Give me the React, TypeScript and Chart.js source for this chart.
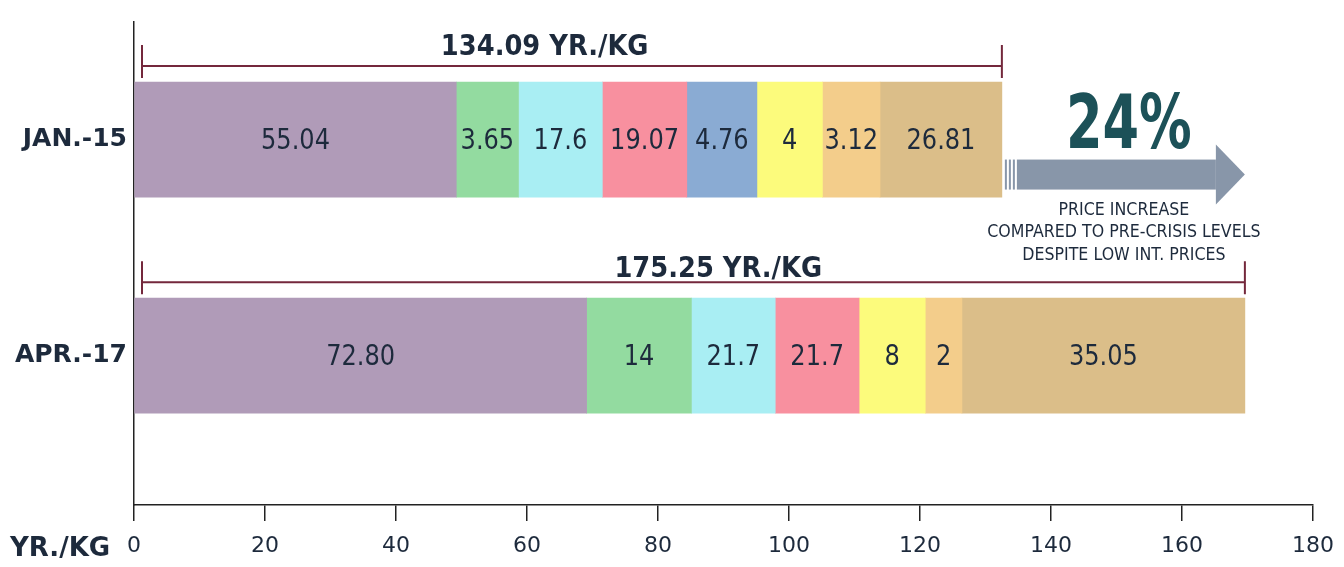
import React, { useEffect, useRef } from 'react';
import { Chart, registerables } from 'chart.js';

Chart.register(...registerables);

// ---------- data ----------
const rowLabels = ['JAN.-15', 'APR.-17'];
const rowPositions = [0, 1];
// segment widths as drawn in the picture (axis units), colour order: purple, green, cyan, pink, blue, yellow, orange, tan
const jan15Segments = [49.2, 9.5, 12.8, 12.9, 10.7, 10.0, 8.8, 18.6];
const apr17Segments = [69.1, 16.0, 12.8, 12.8, null, 10.1, 5.6, 43.2];
// printed values
const jan15SegmentLabels = ['55.04', '3.65', '17.6', '19.07', '4.76', '4', '3.12', '26.81'];
const apr17SegmentLabels = ['72.80', '14', '21.7', '21.7', '', '8', '2', '35.05'];
const totalLabels = ['134.09 YR./KG', '175.25 YR./KG'];
const xTickValues = [0, 20, 40, 60, 80, 100, 120, 140, 160, 180];
const xAxisUnit = 'YR./KG';
const increaseText = '24%';
const increaseNote = ['PRICE INCREASE', 'COMPARED TO PRE-CRISIS LEVELS', 'DESPITE LOW INT. PRICES'];

// ---------- styles ----------
const segmentColors = ['#b09bb8', '#93dba0', '#a9eef3', '#f8909f', '#8aabd3', '#fcfb7c', '#f3cd8b', '#dbbe89'];
const TEXT = '#1d2a3c';
const BRACKET = '#74283c';
const ARROW = '#8896a9';
const TEAL = '#1c5158';
const BAR_THICKNESS = 115;
const totalLabelAnchors = [62.7, 89.2]; // axis value at which each total label is centred
const totalLabelLift = [11, 5];

function drawText(ctx: CanvasRenderingContext2D, text: string, x: number, y: number, font: string, sx: number, color: string, baseline: CanvasTextBaseline, align: CanvasTextAlign = 'center') {
  ctx.save();
  ctx.translate(x, y);
  ctx.scale(sx, 1);
  ctx.font = font;
  ctx.textAlign = align;
  ctx.textBaseline = baseline;
  ctx.fillStyle = color;
  ctx.fillText(text, 0, 0);
  ctx.restore();
}

const sum = (a: (number | null)[]) => a.reduce((s: number, v) => s + (v ?? 0), 0);

const annotate = {
  id: 'annotate',
  afterDatasetsDraw(chart: any) {
    const ctx: CanvasRenderingContext2D = chart.ctx;
    const xs = chart.scales.x;
    const ys = chart.scales.y;
    const rowsLab = [jan15SegmentLabels, apr17SegmentLabels];
    const totals = [sum(jan15Segments), sum(apr17Segments)];

    // segment value labels
    chart.data.datasets.forEach((_ds: any, di: number) => {
      const meta = chart.getDatasetMeta(di);
      meta.data.forEach((el: any, ri: number) => {
        const label = rowsLab[ri] && rowsLab[ri][di];
        if (!label) return;
        const { x, base, y } = el.getProps(['x', 'base', 'y'], true);
        if (x == null || isNaN(x)) return;
        drawText(ctx, label, (x + base) / 2, y + 2, '28px "DejaVu Sans"', 0.86, TEXT, 'middle');
      });
    });

    // total brackets
    rowPositions.forEach((pos, r) => {
      const yc = ys.getPixelForValue(pos);
      const by = yc - BAR_THICKNESS / 2 - 16;
      const x0 = xs.getPixelForValue(0) + 8;
      const x1 = xs.getPixelForValue(totals[r]);
      ctx.save();
      ctx.strokeStyle = BRACKET;
      ctx.lineWidth = 2;
      ctx.beginPath();
      ctx.moveTo(x0, by);
      ctx.lineTo(x1, by);
      ctx.moveTo(x0, by - 21);
      ctx.lineTo(x0, by + 12);
      ctx.moveTo(x1, by - 21);
      ctx.lineTo(x1, by + 12);
      ctx.stroke();
      ctx.restore();
      drawText(ctx, totalLabels[r], xs.getPixelForValue(totalLabelAnchors[r]), by - totalLabelLift[r], 'bold 28px "DejaVu Sans"', 0.92, TEXT, 'alphabetic');
    });

    // arrow
    const yJan = ys.getPixelForValue(rowPositions[0]);
    const startX = xs.getPixelForValue(totals[0]) + 3;
    const tipX = xs.getPixelForValue(totals[1]);
    const cy = yJan + 35;
    const headBase = tipX - 29;
    ctx.save();
    ctx.fillStyle = ARROW;
    for (let i = 0; i < 3; i++) {
      ctx.fillRect(startX + i * 4, cy - 15, 2, 30);
    }
    ctx.fillRect(startX + 12, cy - 15, headBase - startX - 12, 30);
    ctx.beginPath();
    ctx.moveTo(headBase, cy - 30);
    ctx.lineTo(tipX, cy);
    ctx.lineTo(headBase, cy + 30);
    ctx.closePath();
    ctx.fill();
    ctx.restore();

    const midX = (startX + tipX) / 2;
    drawText(ctx, increaseText, midX + 4, cy - 27, 'bold 74px "DejaVu Sans"', 0.71, TEAL, 'alphabetic');
    const noteBase = [40.5, 62.5, 85.5];
    increaseNote.forEach((t, i) => {
      drawText(ctx, t, midX - 1, cy + noteBase[i], '18px "DejaVu Sans"', 0.88, TEXT, 'alphabetic');
    });

    // axis unit
    drawText(ctx, xAxisUnit, 10, xs.bottom - 18, 'bold 26px "DejaVu Sans"', 1, TEXT, 'middle', 'left');
  },
};

export default function App() {
  const ref = useRef<HTMLCanvasElement | null>(null);
  useEffect(() => {
    if (!ref.current) return;
    const rows = [jan15Segments, apr17Segments];
    const datasets = segmentColors.map((c, i) => ({
      label: `Component ${i + 1}`,
      data: rowPositions.map((p, r) => ({ x: rows[r][i], y: p })),
      backgroundColor: c,
      borderWidth: 0,
      barThickness: BAR_THICKNESS,
    }));
    const chart = new Chart(ref.current, {
      type: 'bar',
      data: { datasets } as any,
      plugins: [annotate as any],
      options: {
        animation: false,
        responsive: true,
        maintainAspectRatio: false,
        indexAxis: 'y',
        layout: { padding: { top: 20, right: 31, left: 0, bottom: 0 } },
        plugins: { legend: { display: false }, tooltip: { enabled: false } },
        scales: {
          x: {
            type: 'linear',
            stacked: true,
            min: 0,
            max: 180,
            position: 'bottom',
            afterBuildTicks: (s: any) => { s.ticks = xTickValues.map((v) => ({ value: v })); },
            afterFit: (s: any) => { s.height = 62; s.paddingRight = 0; s.paddingLeft = 0; },
            grid: { drawOnChartArea: false, drawTicks: true, tickLength: 16, color: '#222', lineWidth: 1.5 },
            border: { display: true, color: '#222', width: 1.5 },
            ticks: { font: { family: 'DejaVu Sans', size: 22 }, color: TEXT, padding: 12, maxRotation: 0 },
          },
          y: {
            type: 'linear',
            stacked: true,
            offset: false,
            reverse: true,
            min: -0.544,
            max: 1.691,
            afterBuildTicks: (s: any) => { s.ticks = rowPositions.map((v) => ({ value: v })); },
            afterFit: (s: any) => { s.width = 134; },
            grid: { display: false, drawTicks: false, offset: false },
            border: { display: true, color: '#222', width: 1.5 },
            ticks: {
              callback: (v: any) => rowLabels[rowPositions.indexOf(v)] ?? '',
              font: { family: 'DejaVu Sans', size: 25, weight: 'bold' },
              color: TEXT,
              padding: 7,
            },
          },
        },
      } as any,
    });
    return () => chart.destroy();
  }, []);
  return (
    <div style={{ position: 'absolute', left: 0, top: 0, width: 1344, height: 567, background: '#fff' }}>
      <canvas ref={ref} />
    </div>
  );
}
